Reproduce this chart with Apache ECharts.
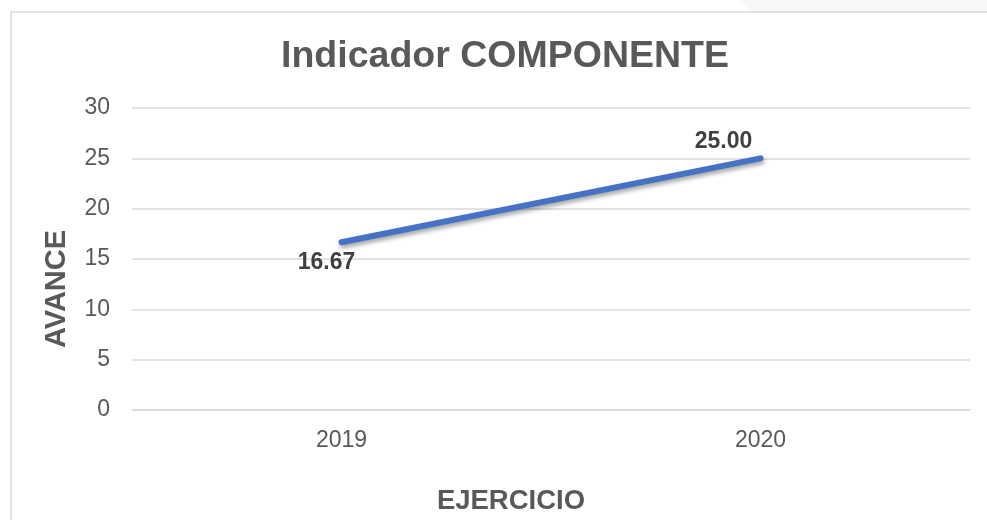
<!DOCTYPE html>
<html>
<head>
<meta charset="utf-8">
<title>Indicador COMPONENTE</title>
<script src="https://cdn.jsdelivr.net/npm/echarts@6/dist/echarts.min.js"></script>
<style>
  html, body { margin: 0; padding: 0; background: #fff; }
  #main { width: 987px; height: 520px; }
</style>
</head>
<body>
<div id="main"></div>
<script>
// datos del gráfico
var years = ['2019', '2020'];
var avance = [16.67, 25.00];
var labelPos = ['bottom', 'top'];
var labelShift = [[-15, 4], [-37, 0]];

var textFont = 'Liberation Sans, Arial, sans-serif';
var grey = '#595959';

var myChart = echarts.init(document.getElementById('main'));

var option = {
    animation: false,
    backgroundColor: '#fff',
    textStyle: { fontFamily: textFont },
    title: {
        text: 'Indicador COMPONENTE',
        left: 500,
        textAlign: 'center',
        top: 33,
        textStyle: { fontSize: 37.5, fontWeight: 'bold', color: grey, fontFamily: textFont }
    },
    graphic: [
        {
            type: 'polygon',
            shape: { points: [[740, 0], [987, 0], [987, 11], [752, 11]] },
            style: { fill: '#f7f7f7' },
            silent: true
        },
        {
            type: 'rect',
            shape: { x: 11, y: 12, width: 1000, height: 540 },
            style: { fill: 'none', stroke: '#d9d9d9', lineWidth: 1.5 },
            silent: true
        }
    ],
    grid: { left: 132, right: 17, top: 108, bottom: 110, containLabel: false, outerBoundsMode: 'none' },
    xAxis: {
        type: 'category',
        data: years,
        boundaryGap: true,
        name: 'EJERCICIO',
        nameLocation: 'middle',
        nameGap: 77,
        nameMoveOverlap: false,
        // el título del eje está corrido a la izquierda en el original
        nameTextStyle: { fontSize: 27.5, fontWeight: 'bold', color: grey, padding: [0, 80, 0, 0] },
        axisLine: { lineStyle: { color: '#d9d9d9', width: 1.5 } },
        axisTick: { show: false },
        axisLabel: { fontSize: 23, color: grey, margin: 19 }
    },
    yAxis: {
        type: 'value',
        min: 0,
        max: 30,
        interval: 5,
        name: 'AVANCE',
        nameLocation: 'middle',
        nameGap: 61,
        nameMoveOverlap: false,
        nameTextStyle: { fontSize: 29, fontWeight: 'bold', color: grey, padding: [0, 60, 0, 0] },
        axisLine: { show: false },
        axisTick: { show: false },
        axisLabel: { fontSize: 23, color: grey, margin: 22 },
        splitLine: { lineStyle: { color: '#d9d9d9', width: 1.5 } }
    },
    series: [{
        type: 'line',
        data: avance.map(function (v, i) {
            return {
                value: v,
                label: { position: labelPos[i], offset: labelShift[i] }
            };
        }),
        symbol: 'circle',
        symbolSize: 0.1,
        showSymbol: true,
        lineStyle: {
            color: '#4472C4',
            width: 6,
            cap: 'round',
            shadowColor: 'rgba(0,0,0,0.35)',
            shadowBlur: 4,
            shadowOffsetX: 1,
            shadowOffsetY: 3
        },
        itemStyle: { color: '#4472C4' },
        label: {
            show: true,
            fontSize: 23,
            fontWeight: 'bold',
            color: '#404040',
            formatter: function (p) { return p.value.toFixed(2); }
        }
    }]
};

myChart.setOption(option);
</script>
</body>
</html>
